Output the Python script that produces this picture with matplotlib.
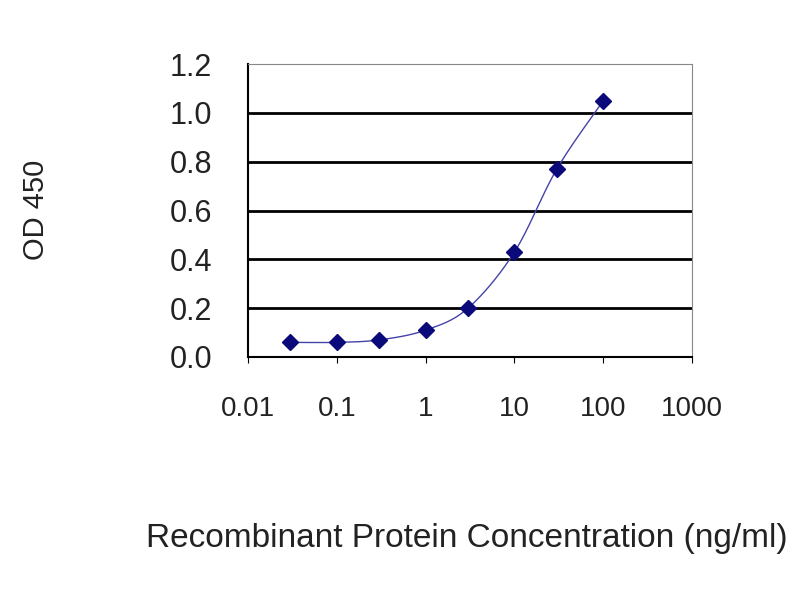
import numpy as np
import matplotlib.pyplot as plt

plt.rcParams['font.family'] = ['Liberation Sans', 'DejaVu Sans']

# data
conc = [0.03, 0.1, 0.3, 1, 3, 10, 30, 100]
od = [0.06, 0.06, 0.07, 0.11, 0.20, 0.43, 0.77, 1.05]
xticks = [0.01, 0.1, 1, 10, 100, 1000]
xlabels = ["0.01", "0.1", "1", "10", "100", "1000"]
yticks = [0.0, 0.2, 0.4, 0.6, 0.8, 1.0, 1.2]
ylabels = ["0.0", "0.2", "0.4", "0.6", "0.8", "1.0", "1.2"]

fig = plt.figure(figsize=(8, 6), dpi=100)
ax = fig.add_axes([0.31, 0.405, 0.555, 0.488])
ax.set_xscale('log')
ax.set_xlim(0.01, 1000)
ax.set_ylim(0, 1.2)

# smoothed line, Catmull-Rom style bezier through the points in log-x space
pts = np.column_stack([np.log10(conc), od])
n = len(pts)
curve = []
t = np.linspace(0, 1, 30)[:, None]
for i in range(n - 1):
    p0 = pts[i - 1] if i > 0 else pts[i]
    p1 = pts[i]
    p2 = pts[i + 1]
    p3 = pts[i + 2] if i + 2 < n else pts[i + 1]
    c1 = p1 + (p2 - p0) / 6
    c2 = p2 - (p3 - p1) / 6
    c = (1 - t) ** 3 * p1 + 3 * (1 - t) ** 2 * t * c1 + 3 * (1 - t) * t ** 2 * c2 + t ** 3 * p2
    curve.append(c)
curve = np.vstack(curve)
ax.plot(10 ** curve[:, 0], curve[:, 1], color='#4444a8', lw=1.0, zorder=3)
ax.plot(conc, od, linestyle='none', marker='D', ms=8, color='#0a0a7a', zorder=4)

for yt in yticks[1:-1]:
    ax.axhline(yt, color='black', lw=2, zorder=1)

ax.spines['left'].set_color('black')
ax.spines['left'].set_linewidth(1.5)
ax.spines['bottom'].set_color('black')
ax.spines['bottom'].set_linewidth(1.5)
ax.spines['top'].set_color('#888888')
ax.spines['right'].set_color('#888888')

ax.set_xticks(xticks)
ax.set_xticklabels(xlabels, fontsize=20)
ax.minorticks_off()
ax.tick_params(axis='x', length=4, pad=24, colors='black', labelcolor='#222222')
ax.set_yticks(yticks)
ax.set_yticklabels(ylabels, fontsize=22)
ax.tick_params(axis='y', length=0, pad=26, labelcolor='#222222')

fig.text(0.045, 1 - 210 / 600, "OD 450", rotation=90, fontsize=21,
         ha='center', va='center', color='#222222')
fig.text(467 / 800, 1 - 538 / 600, "Recombinant Protein Concentration (ng/ml)", fontsize=24,
         ha='center', va='center', color='#222222')

fig.savefig('out.png', dpi=100)
